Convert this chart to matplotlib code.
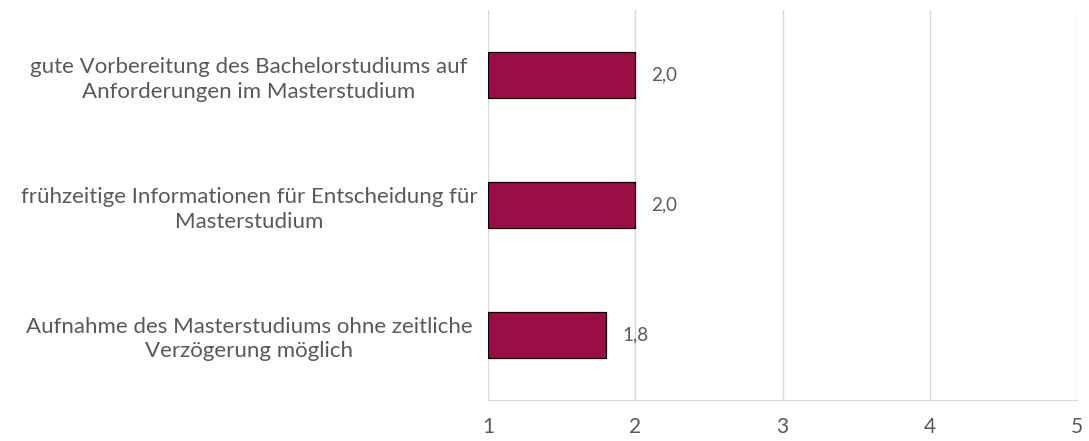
import matplotlib
matplotlib.use("Agg")
import matplotlib.pyplot as plt

categories = [
    "gute Vorbereitung des Bachelorstudiums auf\nAnforderungen im Masterstudium",
    "frühzeitige Informationen für Entscheidung für\nMasterstudium",
    "Aufnahme des Masterstudiums ohne zeitliche\nVerzögerung möglich",
]
values = [2.0, 2.0, 1.8]
x_ticks = [1, 2, 3, 4, 5]

plt.rcParams['font.family'] = ['Lato', 'DejaVu Sans']
text_color = "#595959"

fig = plt.figure(figsize=(10.89, 4.41), dpi=100)
ax = fig.add_axes([0.4481, 0.093, 0.5409, 0.884])

ypos = list(range(len(categories)))[::-1]
ax.barh(ypos, [v - 1 for v in values], left=1, height=0.354,
        color="#9B0E45", edgecolor="black", linewidth=0.9, zorder=3)
for y, v in zip(ypos, values):
    ax.text(v + 0.11, y, f"{v:.1f}".replace(".", ","), va="center", ha="left",
            fontsize=13.5, color=text_color)

ax.set_xlim(1, 5)
ax.set_ylim(-0.5, 2.5)
ax.set_xticks(x_ticks)
ax.set_xticklabels([str(t) for t in x_ticks], fontsize=15, color=text_color)
ax.set_yticks(ypos)
ax.set_yticklabels(categories, fontsize=16, color=text_color, ha="center",
                   linespacing=1.28)
ax.tick_params(axis='y', length=0, pad=172)
ax.tick_params(axis='x', length=0, pad=12)
ax.grid(axis='x', color="#D9D9D9", linewidth=1, zorder=0)
for s in ["top", "right", "left"]:
    ax.spines[s].set_visible(False)
ax.spines["bottom"].set_color("#D9D9D9")

fig.savefig("out.png", dpi=100)
